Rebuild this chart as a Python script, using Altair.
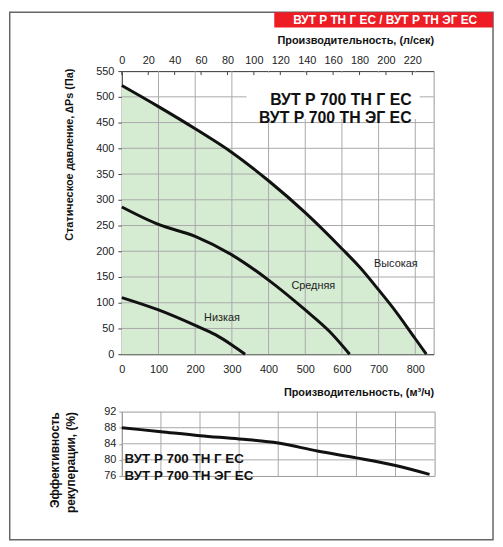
import altair as alt
import pandas as pd

# Напорные кривые: производительность (м3/ч) -> статическое давление (Па)
high_q = [0, 100, 200, 300, 400, 500, 600, 650, 700, 750, 800, 830]
high_p = [522, 481, 438, 392, 337, 275, 205, 168, 125, 80, 30, 0]
mid_q = [0, 100, 200, 300, 400, 500, 565, 621]
mid_p = [286, 252, 229, 193, 144, 86, 45, 0]
low_q = [0, 100, 200, 255, 300, 336]
low_p = [110, 86, 56, 38, 18, 0]

# Подписи кривых
lab_names = ['Высокая', 'Средняя', 'Низкая']
lab_q = [747, 522, 273]
lab_p = [175, 132, 70]

# Эффективность рекуперации (%)
eff_q = [0, 100, 200, 300, 400, 500, 600, 700, 787]
eff_v = [88, 87, 86, 85.2, 84.2, 82.2, 80.5, 78.6, 76.4]

# Деления осей
m3h_ticks = [0, 100, 200, 300, 400, 500, 600, 700, 800]
ls_ticks = [0, 20, 40, 60, 80, 100, 120, 140, 160, 180, 200, 220]
pa_ticks = [0, 50, 100, 150, 200, 250, 300, 350, 400, 450, 500, 550]
eff_ticks = [76, 80, 84, 88, 92]

models = ['ВУТ Р 700 ТН Г ЕС', 'ВУТ Р 700 ТН ЭГ ЕС']
header = 'ВУТ Р ТН Г ЕС / ВУТ Р ТН ЭГ ЕС'

curves = pd.concat([
    pd.DataFrame({'curve': 'high', 'q': high_q, 'p': high_p}),
    pd.DataFrame({'curve': 'mid', 'q': mid_q, 'p': mid_p}),
    pd.DataFrame({'curve': 'low', 'q': low_q, 'p': low_p}),
])
labels = pd.DataFrame({'name': lab_names, 'q': lab_q, 'p': lab_p})
grid_v = pd.DataFrame({'q': m3h_ticks[1:]})
grid_h = pd.DataFrame({'p': pa_ticks[1:-1]})
ls_df = pd.DataFrame({'ls': ls_ticks})
one = pd.DataFrame({'k': [0]})

# места подписей моделей (в единицах осей)
model_pos = pd.DataFrame({'q': [790], 'p': [494.5]})
box_pos = pd.DataFrame({'q': [340], 'q2': [812], 'p': [457], 'p2': [547]})
eff_pos = pd.DataFrame({'q': [7], 'e': [80.2]})

W, H = 315, 286

x_enc = alt.X('q:Q', scale=alt.Scale(domain=[0, 850], nice=False),
              axis=alt.Axis(orient='bottom', values=m3h_ticks, grid=False, ticks=False,
                            labelOverlap=False, labelFlush=False,
                            labelPadding=9, title='Производительность, (м³/ч)',
                            titleX=W, titleY=39, titleAlign='right', titleBaseline='middle'))
y_enc = alt.Y('p:Q', scale=alt.Scale(domain=[0, 550], nice=False),
              axis=alt.Axis(values=pa_ticks, grid=False, tickSize=4, labelPadding=4,
                            labelOverlap=False, labelFlush=False,
                            title='Статическое давление, ∆Ps (Па)',
                            titleX=-53, titleY=84, titleAlign='center', titleBaseline='middle'))

area = alt.Chart(curves[curves.curve == 'high']).mark_area(
    interpolate='monotone', color='#d5ecd3').encode(x=x_enc, y=y_enc)

vlines = alt.Chart(grid_v).mark_rule(color='#a9a9a9', strokeWidth=1).encode(x=x_enc)
hlines = alt.Chart(grid_h).mark_rule(color='#a9a9a9', strokeWidth=1).encode(y=y_enc)

# белая подложка под названием модели
title_box = alt.Chart(box_pos).mark_rect(color='white').encode(
    x=x_enc, x2='q2:Q', y=y_enc, y2='p2:Q')

lines = alt.Chart(curves).mark_line(
    interpolate='monotone', color='#111', strokeWidth=3).encode(
    x=x_enc, y=y_enc, detail='curve:N')

curve_text = alt.Chart(labels).mark_text(fontSize=11, color='#222').encode(
    x=x_enc, y=y_enc, text='name:N')

model_text = alt.Chart(model_pos).mark_text(
    text=models, fontSize=16, fontWeight='bold', color='#111', align='right',
    baseline='middle', lineHeight=19).encode(x=x_enc, y=y_enc)

# рамка и красная плашка
frame = alt.Chart(one).mark_rect(fill=None, stroke='#666', strokeWidth=1.5).encode(
    x=alt.value(-113.25), x2=alt.value(375), y=alt.value(-59.5), y2=alt.value(473.5))
red_box = alt.Chart(one).mark_rect(color='#ee1c25').encode(
    x=alt.value(154), x2=alt.value(375), y=alt.value(-59.5), y2=alt.value(-44))
red_text = alt.Chart(one).mark_text(
    text=header, fontSize=12, fontWeight='bold', color='white').encode(
    x=alt.value(266), y=alt.value(-51.5))

inner = alt.layer(area, vlines, hlines, title_box, lines, curve_text, model_text,
                  frame, red_box, red_text)

top_axis = alt.Chart(ls_df).mark_rule(color='#444').encode(
    x=alt.X('ls:Q', scale=alt.Scale(domain=[0, 850 / 3.6], nice=False),
            axis=alt.Axis(orient='top', values=ls_ticks, ticks=False, grid=False,
                          labelOverlap=False, labelFlush=False,
                          labelPadding=6, title='Производительность, (л/сек)',
                          titleX=W, titleY=-31, titleAlign='right', titleBaseline='middle')),
    y=alt.value(0), y2=alt.value(4))

top = alt.layer(inner, top_axis).resolve_scale(x='independent').properties(width=W, height=H)

# нижний график - эффективность
eff = pd.DataFrame({'q': eff_q, 'e': eff_v})
bx = alt.X('q:Q', scale=alt.Scale(domain=[0, 800], nice=False), axis=None)
by = alt.Y('e:Q', scale=alt.Scale(domain=[76, 92], nice=False),
           axis=alt.Axis(values=eff_ticks, grid=False, tickSize=3, labelPadding=3,
                         labelOverlap=False, labelFlush=False,
                         domainColor='#999', tickColor='#999',
                         title=['Эффективность', 'рекуперации, (%)'], titleFontSize=12,
                         titleLineHeight=16, titleAlign='right', titleBaseline='top',
                         titleX=-73, titleY=0))

b_vlines = alt.Chart(pd.DataFrame({'q': m3h_ticks[1:-1]})).mark_rule(
    color='#a9a9a9').encode(x=bx)
b_hlines = alt.Chart(pd.DataFrame({'e': eff_ticks[1:-1]})).mark_rule(
    color='#a9a9a9').encode(y=by)
eff_line = alt.Chart(eff).mark_line(
    interpolate='monotone', color='#111', strokeWidth=3).encode(x=bx, y=by)
eff_text = alt.Chart(eff_pos).mark_text(
    text=models, fontSize=13.5, fontWeight='bold', color='#111', align='left',
    baseline='middle', lineHeight=17).encode(x=bx, y=by)

bottom = alt.layer(b_vlines, b_hlines, eff_line, eff_text).properties(width=316, height=65)

chart = alt.vconcat(top, bottom, spacing=58, bounds='flush').properties(
    padding=0
).configure(
    font='Liberation Sans'
).configure_view(
    stroke='#999', strokeWidth=1
).configure_axis(
    labelFontSize=11, labelColor='#222', labelFont='Liberation Sans',
    titleFontSize=11, titleFontWeight='bold', titleColor='#111', titleFont='Liberation Sans',
    domainColor='#444', tickColor='#444'
)

chart.save("out.html", embed_options={"renderer": "svg", "actions": False})
